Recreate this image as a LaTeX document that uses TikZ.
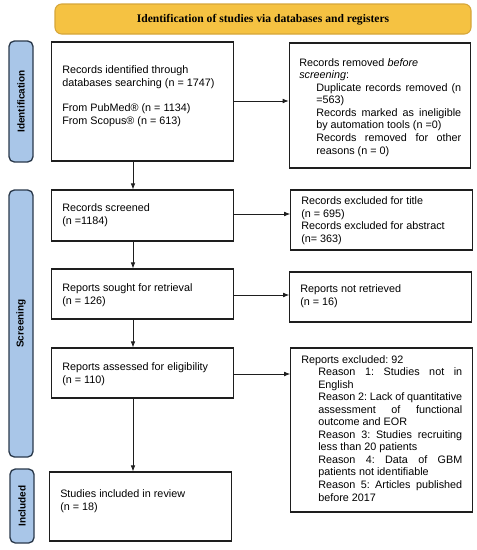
\documentclass[tikz,border=0pt]{standalone}
\usepackage{fontspec}
\setmainfont{Liberation Sans}
\newfontfamily\bannerfont{Liberation Serif}
\frenchspacing
\definecolor{bannerfill}{HTML}{F5C242}
\definecolor{bannerdraw}{HTML}{D6A63A}
\definecolor{barfill}{HTML}{A9C6E8}
\definecolor{bardraw}{HTML}{2B3A4C}
\definecolor{boxdraw}{HTML}{1E1E1E}
\tikzset{
  x=0.75pt, y=-0.75pt,
  box/.style={draw=boxdraw, line width=0.9pt, fill=white, inner sep=0pt},
  bar/.style={draw=bardraw, line width=1pt, fill=barfill, rounded corners=4pt, inner sep=0pt},
  barlabel/.style={rotate=90, font=\fontsize{7.5}{9}\selectfont\bfseries},
  txt/.style={inner sep=0pt, anchor=base west, align=left, font=\fontsize{8.1}{9.4}\selectfont},
  arr/.style={-{Latex[length=4.5pt,width=3.5pt]}, line width=0.6pt, draw=boxdraw},
}
\usetikzlibrary{arrows.meta}
\newcommand{\jl}[1]{\makebox[108.75pt][s]{#1}}
\newcommand{\jm}[1]{\makebox[108pt][s]{#1}}
\begin{document}
\begin{tikzpicture}
\useasboundingbox (0,0) rectangle (477,550);
\fill[white] (0,0) rectangle (477,550);
% banner
\draw[draw=bannerdraw, fill=bannerfill, line width=0.8pt, rounded corners=5pt] (55,4) rectangle (471,34);
\node[font=\bannerfont\fontsize{8.7}{10}\selectfont\bfseries, inner sep=0pt] (banner) at (263,19.5) {Identification of studies via databases and registers};
% side bars
\draw[bar] (9,41) rectangle (33,162);
\node[barlabel] (lid) at (21,101.5) {Identification};
\draw[bar] (9,190) rectangle (33,457);
\node[barlabel] (lsc) at (21,323.5) {Screening};
\draw[bar] (10,469) rectangle (34,543);
\node[barlabel] (lin) at (22,506) {Included};
% left boxes
\node[box, minimum width=136pt, minimum height=89.25pt] (b1) at (142.5,101.5) {};
\node[box, minimum width=136pt, minimum height=38.25pt] (b2) at (142.5,215.5) {};
\node[box, minimum width=136pt, minimum height=37.5pt] (b3) at (142.5,294) {};
\node[box, minimum width=136pt, minimum height=37.5pt] (b4) at (142.5,373) {};
\node[box, minimum width=136pt, minimum height=51.75pt] (b5) at (140.5,506.5) {};
% right boxes
\node[box, minimum width=136pt, minimum height=93.75pt] (r1) at (380,105.5) {};
\node[box, minimum width=136pt, minimum height=45pt] (r2) at (381.5,220) {};
\node[box, minimum width=136pt, minimum height=37.5pt] (r3) at (380.5,297) {};
\node[box, minimum width=136pt, minimum height=123pt] (r4) at (381.5,430) {};
% texts (anchor = baseline of last line)
\node[txt] (t1) at (62,124) {Records identified through\\databases searching (n = 1747)\\[9.4pt]From PubMed® (n = 1134)\\From Scopus® (n = 613)};
\node[txt] (t2) at (62,224.5) {Records screened\\(n =1184)};
\node[txt] (t3) at (62,304.5) {Reports sought for retrieval\\(n = 126)};
\node[txt] (t4) at (62,383.5) {Reports assessed for eligibility\\(n = 110)};
\node[txt] (t5) at (60,510.5) {Studies included in review\\(n = 18)};
\node[txt] (t6) at (299,154) {Records removed \textit{before}\\\textit{screening}:\\
\hspace*{12.75pt}\jl{Duplicate records removed (n}\\
\hspace*{12.75pt}=563)\\
\hspace*{12.75pt}\jl{Records marked as ineligible}\\
\hspace*{12.75pt}by automation tools (n =0)\\
\hspace*{12.75pt}\jl{Records removed for other}\\
\hspace*{12.75pt}reasons (n = 0)};
\node[txt] (t7) at (301,242.5) {Records excluded for title\\(n = 695)\\Records excluded for abstract\\(n= 363)};
\node[txt] (t8) at (300,305.5) {Reports not retrieved\\(n = 16)};
\node[txt] (t9) at (301,501) {Reports excluded: 92\\
\hspace*{12.75pt}\jm{Reason 1: Studies not in}\\
\hspace*{12.75pt}English\\
\hspace*{12.75pt}\jm{Reason 2: Lack of quantitative}\\
\hspace*{12.75pt}\jm{assessment of functional}\\
\hspace*{12.75pt}outcome and EOR\\
\hspace*{12.75pt}\jm{Reason 3: Studies recruiting}\\
\hspace*{12.75pt}less than 20 patients\\
\hspace*{12.75pt}\jm{Reason 4: Data of GBM}\\
\hspace*{12.75pt}patients not identifiable\\
\hspace*{12.75pt}\jm{Reason 5: Articles published}\\
\hspace*{12.75pt}before 2017};
% arrows
\draw[arr] (b1.south -| 133,0) -- (b2.north -| 133,0);
\draw[arr] (b2.south -| 133,0) -- (b3.north -| 133,0);
\draw[arr] (b3.south -| 133,0) -- (b4.north -| 133,0);
\draw[arr] (b4.south -| 133,0) -- (b5.north -| 133,0);
\draw[arr] (b1.east |- 0,101) -- (r1.west |- 0,101);
\draw[arr] (b2.east |- 0,214) -- (r2.west |- 0,214);
\draw[arr] (b3.east |- 0,295) -- (r3.west |- 0,295);
\draw[arr] (b4.east |- 0,374) -- (r4.west |- 0,374);
\end{tikzpicture}
\end{document}
